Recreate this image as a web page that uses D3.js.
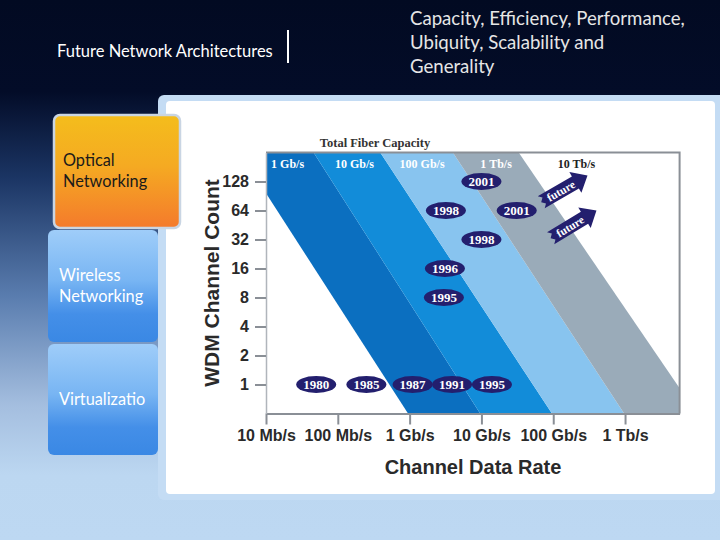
<!DOCTYPE html>
<html><head><meta charset="utf-8">
<script src="https://cdn.jsdelivr.net/npm/d3@7"></script>
<style>html,body{margin:0;padding:0;background:#0a1530;}svg{display:block;}</style>
</head><body>
<svg id="chart" width="720" height="540"></svg>
<script>
// ---- data ----
const xTickValues = [10, 100, 1000, 1e4, 1e5, 1e6];            // Mb/s
const xTickLabels = ["10 Mb/s", "100 Mb/s", "1 Gb/s", "10 Gb/s", "100 Gb/s", "1 Tb/s"];
const yTickValues = [1, 2, 4, 8, 16, 32, 64, 128];
const bandNames = ["1 Gb/s", "10 Gb/s", "100 Gb/s", "1 Tb/s", "10 Tb/s"];
const bandLabelRates = [20, 171, 1490, 16000, 211000];
const boundaryTopRates = [4.3, 46, 390, 4000, 33000];          // boundary rate at 256 channels
const boundaryBottomRates = [950, 9600, 96000, 970000, 1.0e7];  // boundary rate at 0.5 channel
const bandColors = ["#0b6fc0", "#128cd9", "#88c4ef", "#9aabb9"];
const milestoneYears = ["1980", "1985", "1987", "1991", "1995", "1995", "1996", "1998", "1998", "2001", "2001"];
const milestoneRates = [50, 250, 1100, 3900, 14000, 3000, 3100, 3200, 10000, 10000, 31000];
const milestoneChannels = [1, 1, 1, 1, 1, 8, 16, 64, 32, 128, 64];
const arrowTailRates = [68000, 92000];
const arrowTailChannels = [78, 33];
const arrowTipRates = [300000, 400000];
const arrowTipChannels = [148, 64];
const arrowLabels = ["future", "future"];
const tabLabels = [["Optical", "Networking"], ["Wireless", "Networking"], ["Virtualizatio"]];
const headerLeft = "Future Network Architectures";
const headerRight = ["Capacity, Efficiency, Performance,", "Ubiquity, Scalability and", "Generality"];

const svg = d3.select("#chart");
const defs = svg.append("defs");

// background gradient
const bg = defs.append("linearGradient").attr("id", "bg").attr("x1", 0).attr("y1", 0).attr("x2", 0).attr("y2", 1);
[[0, "#020a22"], [0.17, "#030c28"], [0.33, "#1b3564"], [0.55, "#5a7daf"], [0.75, "#a4bedf"], [0.88, "#bcd7f1"], [1, "#bdd8f2"]]
  .forEach(([o, c]) => bg.append("stop").attr("offset", o).attr("stop-color", c));
const og = defs.append("linearGradient").attr("id", "orange").attr("x1", 0).attr("y1", 0).attr("x2", 0).attr("y2", 1);
[[0, "#f4bd1c"], [0.45, "#f5aa22"], [1, "#f47a2c"]].forEach(([o, c]) => og.append("stop").attr("offset", o).attr("stop-color", c));
const blg = defs.append("linearGradient").attr("id", "blue").attr("x1", 0).attr("y1", 0).attr("x2", 0).attr("y2", 1);
[[0, "#9fcdf9"], [0.45, "#78b5f3"], [0.75, "#448fe8"], [1, "#3a88e4"]].forEach(([o, c]) => blg.append("stop").attr("offset", o).attr("stop-color", c));

svg.append("rect").attr("width", 720).attr("height", 540).attr("fill", "url(#bg)");

// header
svg.append("text").attr("x", 57).attr("y", 57).attr("fill", "#ffffff")
  .style("font-family", "Lato, 'Open Sans', sans-serif").style("font-size", "16.5px").text(headerLeft);
svg.append("rect").attr("x", 287).attr("y", 30).attr("width", 2).attr("height", 33).attr("fill", "#ffffff");
headerRight.forEach((t, i) => svg.append("text").attr("x", 410).attr("y", 25 + i * 24).attr("fill", "#e6e6e6")
  .style("font-family", "Lato, 'Open Sans', sans-serif").style("font-size", "18.6px").text(t));

// panel
svg.append("rect").attr("x", 158).attr("y", 95).attr("width", 570).attr("height", 405).attr("rx", 6).attr("fill", "#c4dcf4");
svg.append("rect").attr("x", 166).attr("y", 101).attr("width", 549).attr("height", 393).attr("rx", 4).attr("fill", "#ffffff");

// tabs
const tabs = [
  {x: 48, y: 230, w: 110, h: 112, fill: "url(#blue)", color: "#ffffff", tx: 59},
  {x: 48, y: 344, w: 110, h: 111, fill: "url(#blue)", color: "#ffffff", tx: 59},
  {x: 54, y: 115, w: 126, h: 113, fill: "url(#orange)", color: "#1a1a1a", tx: 63, stroke: "#c9d5e3"}
];
const tabText = [tabLabels[1], tabLabels[2], tabLabels[0]];
const tabBase = [281, 405, 166];
tabs.forEach((t, i) => {
  svg.append("rect").attr("x", t.x).attr("y", t.y).attr("width", t.w).attr("height", t.h).attr("rx", 6)
    .attr("fill", t.fill).attr("stroke", t.stroke || "none").attr("stroke-width", 2.5);
  tabText[i].forEach((s, j) => svg.append("text").attr("x", t.tx).attr("y", tabBase[i] + j * 21)
    .attr("fill", t.color).style("font-family", "Lato, 'Open Sans', sans-serif").style("font-size", "16.3px").text(s));
});

// ---- chart ----
const plot = {left: 266, right: 679.6, top: 152.5, bottom: 413.5};
const x = d3.scaleLog().domain([10, 5.75e6]).range([plot.left, plot.right]);
const y = d3.scaleLog().base(2).domain([0.5, 256]).range([plot.bottom, plot.top]);

defs.append("clipPath").attr("id", "plotclip").append("rect")
  .attr("x", plot.left).attr("y", plot.top).attr("width", plot.right - plot.left).attr("height", plot.bottom - plot.top);

const g = svg.append("g");
const bands = g.append("g").attr("clip-path", "url(#plotclip)");
bandColors.forEach((c, i) => {
  const pts = [
    [x(boundaryTopRates[i]), y(256)], [x(boundaryTopRates[i + 1]), y(256)],
    [x(boundaryBottomRates[i + 1]), y(0.5)], [x(boundaryBottomRates[i]), y(0.5)]
  ];
  bands.append("path").attr("d", d3.line()(pts) + "Z").attr("fill", c);
});

// frame
g.append("path").attr("d", `M${plot.left},${plot.top}H${plot.right}V${plot.bottom}`)
  .attr("fill", "none").attr("stroke", "#8a8f96").attr("stroke-width", 2);

// axes
const xAxis = d3.axisBottom(x).tickValues(xTickValues).tickFormat((d, i) => xTickLabels[i])
  .tickSize(11).tickSizeOuter(0).tickPadding(5);
const gx = g.append("g").attr("transform", `translate(0,${plot.bottom})`).call(xAxis);
gx.select(".domain").attr("stroke", "#8a8f96").attr("stroke-width", 2);
gx.selectAll(".tick line").attr("stroke", "#8a8f96").attr("stroke-width", 2);
gx.selectAll(".tick text").attr("fill", "#2a2a2a").style("font-family", "'Liberation Sans', Arial, sans-serif")
  .style("font-size", "16px").style("font-weight", "bold");

const yAxis = d3.axisLeft(y).tickValues(yTickValues).tickFormat(d3.format("d")).tickSize(11).tickSizeOuter(0).tickPadding(6);
const gy = g.append("g").attr("transform", `translate(${plot.left},0)`).call(yAxis);
gy.select(".domain").attr("stroke", "#b0b5bb").attr("stroke-width", 1.5);
gy.selectAll(".tick line").attr("stroke", "#8a8f96").attr("stroke-width", 2);
gy.selectAll(".tick text").attr("fill", "#2a2a2a").style("font-family", "'Liberation Sans', Arial, sans-serif")
  .style("font-size", "16px").style("font-weight", "bold");

// axis titles
g.append("text").attr("transform", `translate(219,283) rotate(-90)`).attr("text-anchor", "middle")
  .attr("fill", "#2a2a2a").style("font-family", "'Liberation Sans', Arial, sans-serif").style("font-size", "21px")
  .style("font-weight", "bold").text("WDM Channel Count");
g.append("text").attr("x", 473).attr("y", 474).attr("text-anchor", "middle")
  .attr("fill", "#2a2a2a").style("font-family", "'Liberation Sans', Arial, sans-serif").style("font-size", "20px")
  .style("font-weight", "bold").text("Channel Data Rate");
g.append("text").attr("x", 375).attr("y", 147).attr("text-anchor", "middle")
  .attr("fill", "#333333").style("font-family", "'Liberation Serif', serif").style("font-size", "12.5px")
  .style("font-weight", "bold").text("Total Fiber Capacity");

// band labels
bandNames.forEach((n, i) => g.append("text").attr("x", x(bandLabelRates[i])).attr("y", y(195) + 4)
  .attr("text-anchor", "middle").attr("fill", i === 4 ? "#222222" : "#ffffff")
  .style("font-family", "'Liberation Serif', serif").style("font-size", "12px").style("font-weight", "bold").text(n));

// milestones
const ms = g.append("g");
milestoneYears.forEach((yr, i) => {
  const cx = x(milestoneRates[i]), cy = y(milestoneChannels[i]);
  ms.append("ellipse").attr("cx", cx).attr("cy", cy).attr("rx", 20).attr("ry", 8.5).attr("fill", "#231f6e");
  ms.append("text").attr("x", cx).attr("y", cy + 4.5).attr("text-anchor", "middle").attr("fill", "#ffffff")
    .style("font-family", "'Liberation Serif', serif").style("font-size", "13px").style("font-weight", "bold").text(yr);
});

// future arrows
arrowLabels.forEach((lab, i) => {
  const x0 = x(arrowTailRates[i]), y0 = y(arrowTailChannels[i]);
  const x1 = x(arrowTipRates[i]), y1 = y(arrowTipChannels[i]);
  const L = Math.hypot(x1 - x0, y1 - y0), ang = Math.atan2(y1 - y0, x1 - x0) * 180 / Math.PI;
  const a = g.append("g").attr("transform", `translate(${x0},${y0}) rotate(${ang})`);
  const hb = L - 14;
  a.append("path").attr("d", `M0,-7L${hb},-7L${hb},-12L${L},0L${hb},12L${hb},7L0,7L3.5,3.5L0,0L3.5,-3.5Z`).attr("fill", "#231f6e");
  a.append("text").attr("x", hb / 2 + 3).attr("y", 4).attr("text-anchor", "middle").attr("fill", "#ffffff")
    .style("font-family", "'Liberation Serif', serif").style("font-size", "11.5px").style("font-weight", "bold").text(lab);
});
</script>
</body></html>
